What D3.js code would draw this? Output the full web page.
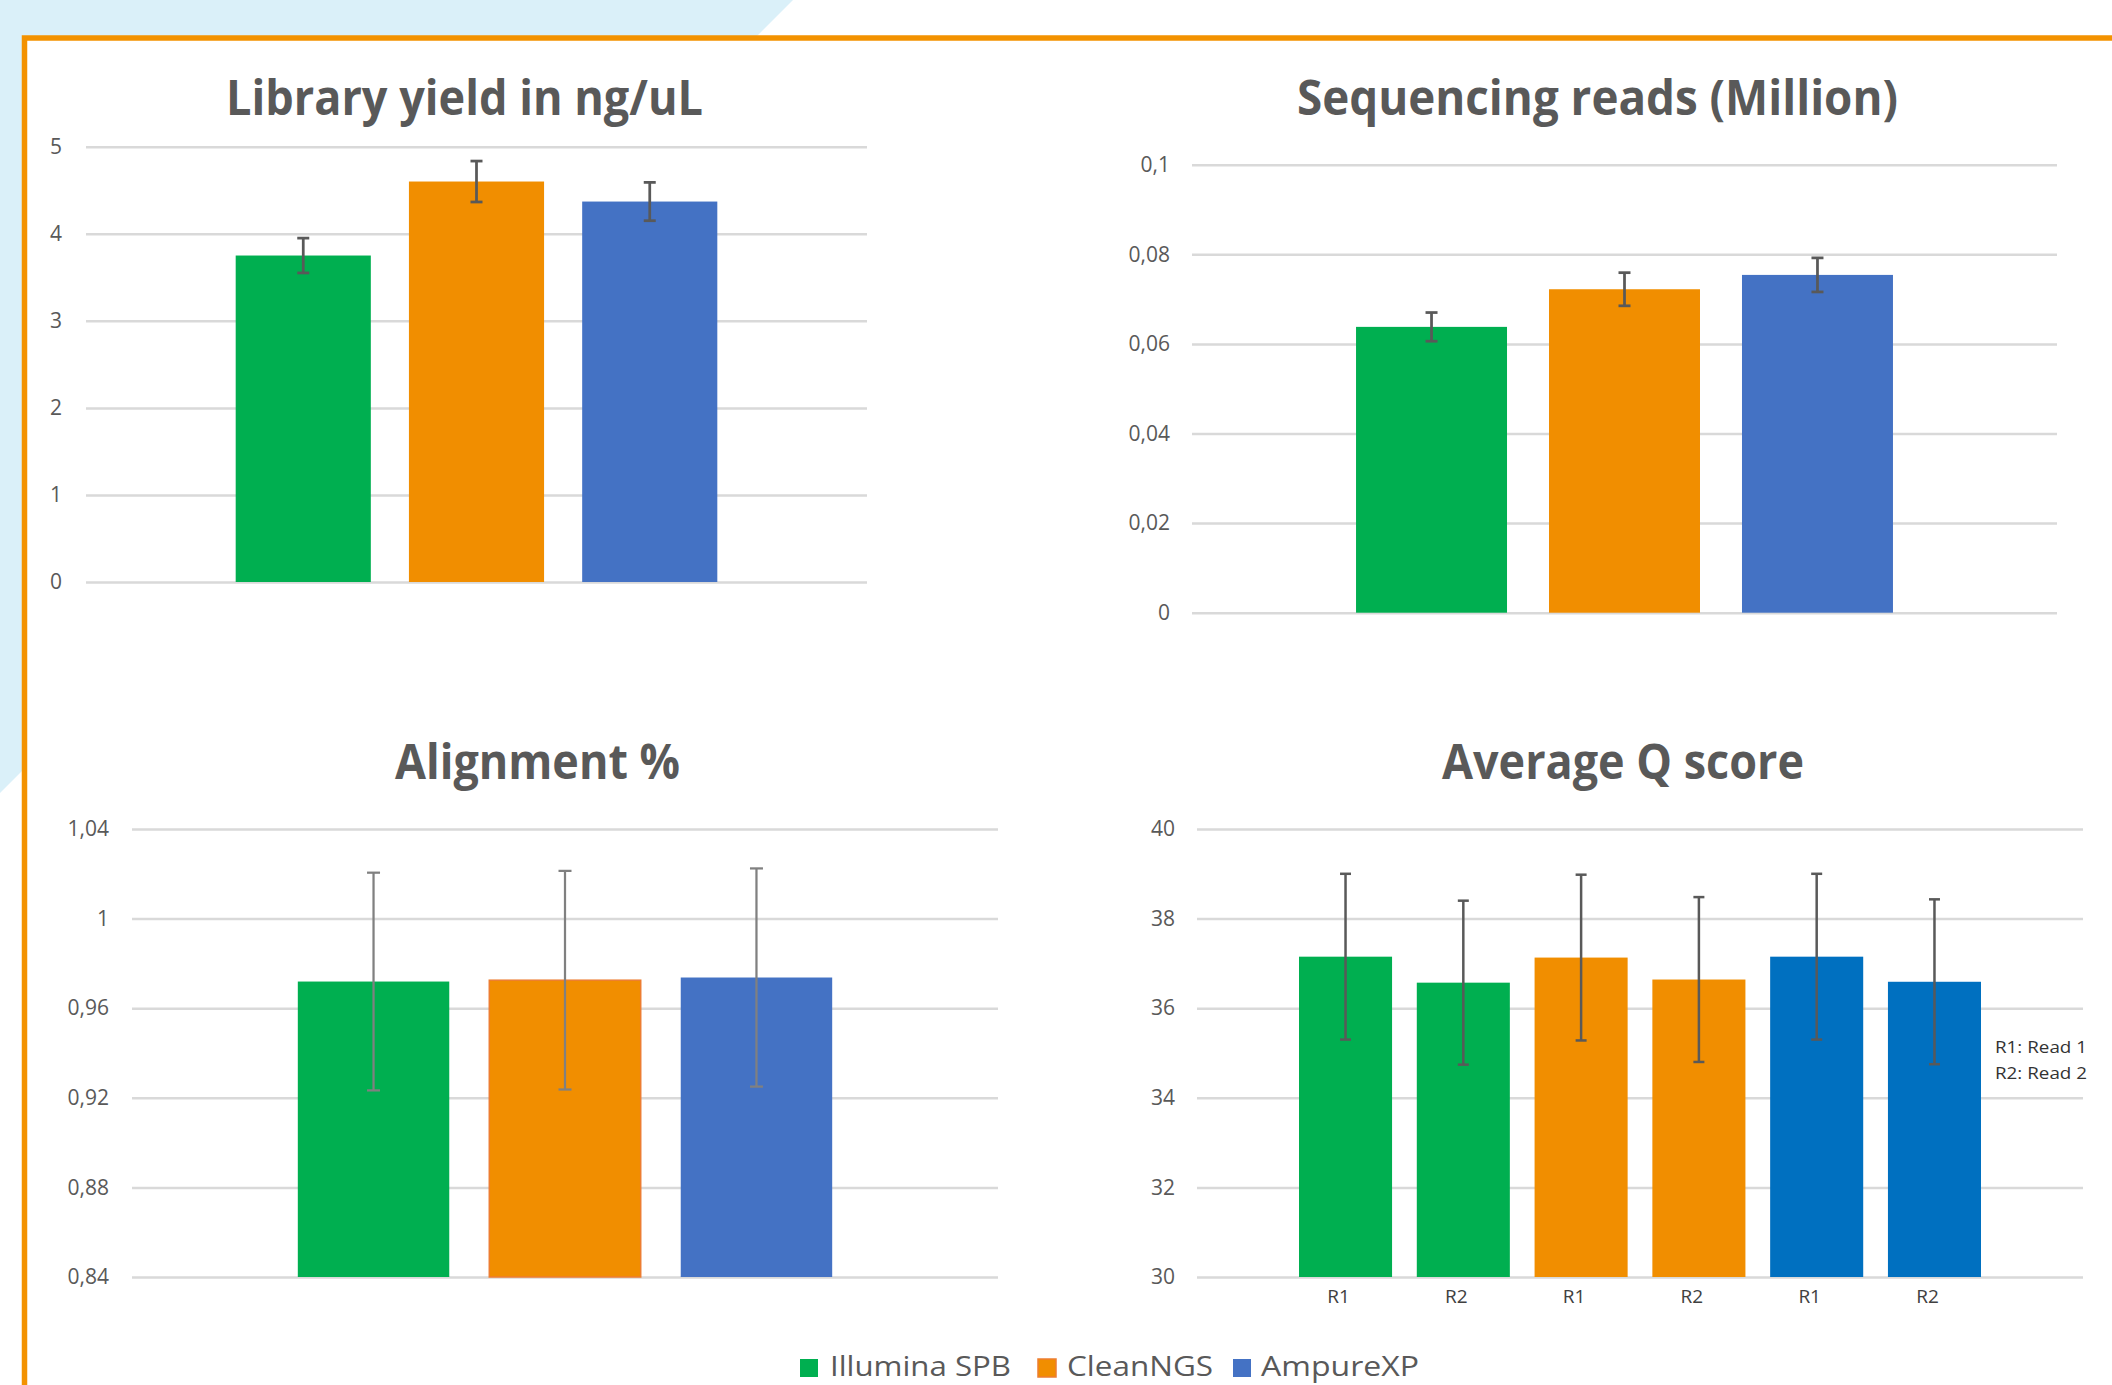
<!DOCTYPE html>
<html><head><meta charset="utf-8">
<script src="https://cdn.jsdelivr.net/npm/d3@7"></script>
<style>
html,body{margin:0;padding:0;background:#fff;overflow:hidden}
text{font-family:"Open Sans","Noto Sans",sans-serif}
</style></head>
<body>
<svg id="chart" width="2112" height="1385"></svg>
<script>
// ---------- data ----------
const seriesNames = ["Illumina SPB", "CleanNGS", "AmpureXP"];

const yieldValues = [3.75, 4.60, 4.37];
const yieldErrors = [0.20, 0.235, 0.22];
const yieldTicks = [0, 1, 2, 3, 4, 5];
const yieldTickLabels = ["0", "1", "2", "3", "4", "5"];

const readsValues = [0.0638, 0.0722, 0.0754];
const readsErrors = [0.0032, 0.0037, 0.0038];
const readsTicks = [0, 0.02, 0.04, 0.06, 0.08, 0.1];
const readsTickLabels = ["0", "0,02", "0,04", "0,06", "0,08", "0,1"];

const alignValues = [0.9719, 0.9725, 0.9737];
const alignErrors = [0.0486, 0.0488, 0.0487];
const alignTicks = [0.84, 0.88, 0.92, 0.96, 1.0, 1.04];
const alignTickLabels = ["0,84", "0,88", "0,92", "0,96", "1", "1,04"];

const qCategories = ["R1", "R2", "R1", "R2", "R1", "R2"];
const qSeries = [0, 0, 1, 1, 2, 2];
const qValues = [37.15, 36.57, 37.13, 36.64, 37.15, 36.59];
const qErrors = [1.85, 1.83, 1.85, 1.84, 1.85, 1.84];
const qTicks = [30, 32, 34, 36, 38, 40];
const qTickLabels = ["30", "32", "34", "36", "38", "40"];
const qNote = ["R1: Read 1", "R2: Read 2"];

const titles = ["Library yield in ng/uL", "Sequencing reads (Million)", "Alignment %", "Average Q score"];

// ---------- styles ----------
const colors = ["#00AF50", "#F18E00", "#4472C4"];
const qColors = ["#00AF50", "#F18E00", "#0070C0"];
const gridColor = "#D9D9D9";
const textGrey = "#595959";

const svg = d3.select("#chart");

// background decoration
svg.append("rect").attr("width", 2112).attr("height", 1385).attr("fill", "#fff");
svg.append("polygon").attr("points", "0,0 793,0 0,793").attr("fill", "#DAF0F9");
svg.append("rect").attr("x", 24.5).attr("y", 38).attr("width", 2200).attr("height", 1500)
  .attr("fill", "#fff").attr("stroke", "#F39200").attr("stroke-width", 5.5);

function fitText(sel, width) {
  sel.attr("textLength", width).attr("lengthAdjust", "spacingAndGlyphs");
}

function panel(cfg) {
  const n = cfg.values.length;
  const g = svg.append("g");
  const y = d3.scaleLinear().domain([cfg.ticks[0], cfg.ticks[cfg.ticks.length - 1]])
    .range([cfg.yBottom, cfg.yTop]);
  const x = d3.scaleBand().domain(d3.range(n)).range([cfg.x0, cfg.x1])
    .paddingInner(cfg.pIn).paddingOuter(cfg.pOut);

  // grid + y labels
  const ax = g.append("g").attr("transform", `translate(${cfg.x0},0)`)
    .call(d3.axisLeft(y).tickValues(cfg.ticks)
      .tickFormat((d, i) => cfg.tickLabels[i])
      .tickSize(-(cfg.x1 - cfg.x0))
      .tickPadding(cfg.x0 - cfg.labelRight));
  ax.select(".domain").remove();
  ax.selectAll(".tick line").attr("stroke", gridColor).attr("stroke-width", 2.5);
  ax.selectAll(".tick text").attr("fill", textGrey).attr("font-size", 21)
    .attr("font-family", "'Open Sans', sans-serif");

  // bars
  const base = y.domain()[0];
  g.selectAll("rect.bar").data(cfg.values).join("rect").attr("class", "bar")
    .attr("x", (d, i) => x(i)).attr("width", x.bandwidth())
    .attr("y", d => y(d)).attr("height", d => y(base) - y(d))
    .attr("fill", (d, i) => cfg.barColor(i))
    .attr("stroke", (d, i) => cfg.barStroke ? cfg.barStroke(i) : "none")
    .attr("stroke-width", 1.5);

  // error bars
  const eg = g.append("g").attr("stroke", cfg.errColor).attr("stroke-width", cfg.errWidth).attr("fill", "none");
  cfg.values.forEach((v, i) => {
    const cx = x(i) + x.bandwidth() / 2;
    const e = cfg.errors[i];
    eg.append("line").attr("x1", cx).attr("x2", cx).attr("y1", y(v + e)).attr("y2", y(v - e));
    eg.append("line").attr("x1", cx - cfg.cap).attr("x2", cx + cfg.cap).attr("y1", y(v + e)).attr("y2", y(v + e));
    eg.append("line").attr("x1", cx - cfg.cap).attr("x2", cx + cfg.cap).attr("y1", y(v - e)).attr("y2", y(v - e));
  });

  // x labels
  if (cfg.xLabels) {
    const xa = g.append("g").attr("transform", `translate(-7,${cfg.yBottom})`)
      .call(d3.axisBottom(x).tickFormat(i => cfg.xLabels[i]).tickSize(0).tickPadding(13));
    xa.select(".domain").remove();
    xa.selectAll(".tick text").attr("fill", "#404040").attr("font-size", 19)
      .attr("font-family", "'Open Sans', sans-serif");
  }

  // title
  const t = g.append("text").attr("x", cfg.titleCx).attr("y", cfg.titleY)
    .attr("text-anchor", "middle").attr("font-size", 48).attr("font-weight", 700)
    .attr("fill", textGrey).text(cfg.title);
  fitText(t, cfg.titleW);
  return {x, y};
}

panel({
  title: titles[0], titleCx: 464.5, titleY: 115, titleW: 477,
  x0: 86, x1: 867, yBottom: 582, yTop: 146.7, pIn: 0.22, pOut: 0.864,
  ticks: yieldTicks, tickLabels: yieldTickLabels, labelRight: 62,
  values: yieldValues, errors: yieldErrors, barColor: i => colors[i],
  errColor: "#595959", errWidth: 2.75, cap: 6
});

panel({
  title: titles[1], titleCx: 1597.5, titleY: 115, titleW: 601,
  x0: 1192, x1: 2057, yBottom: 612.7, yTop: 164.7, pIn: 0.2176, pOut: 0.85,
  ticks: readsTicks, tickLabels: readsTickLabels, labelRight: 1170,
  values: readsValues, errors: readsErrors, barColor: i => colors[i],
  errColor: "#595959", errWidth: 2.75, cap: 6
});

panel({
  title: titles[2], titleCx: 537.5, titleY: 779, titleW: 285,
  x0: 132, x1: 998, yBottom: 1277, yTop: 829, pIn: 0.209, pOut: 0.866,
  ticks: alignTicks, tickLabels: alignTickLabels, labelRight: 109,
  values: alignValues, errors: alignErrors, barColor: i => colors[i],
  barStroke: i => i === 1 ? "#ED7D31" : "none",
  errColor: "#808080", errWidth: 2.25, cap: 6.5
});

panel({
  title: titles[3], titleCx: 1623, titleY: 779, titleW: 362,
  x0: 1197, x1: 2083, yBottom: 1277, yTop: 829, pIn: 0.21, pOut: 0.866,
  ticks: qTicks, tickLabels: qTickLabels, labelRight: 1175,
  values: qValues, errors: qErrors, barColor: i => qColors[qSeries[i]],
  errColor: "#595959", errWidth: 2.5, cap: 5.5, xLabels: qCategories
});

// note
const note = svg.append("g");
qNote.forEach((s, i) => {
  const t = note.append("text").attr("x", 1995).attr("y", 1053 + i * 26)
    .attr("font-size", 17).attr("fill", "#333").text(s);
  fitText(t, 92);
});

// legend
const legendX = [800, 1038, 1233];
const legendTextX = [830, 1067, 1261];
const legendTextW = [181, 146, 158];
const lg = svg.append("g");
seriesNames.forEach((s, i) => {
  lg.append("rect").attr("x", legendX[i]).attr("y", 1359).attr("width", 18).attr("height", 18)
    .attr("fill", colors[i]).attr("stroke", i === 1 ? "#ED7D31" : "none").attr("stroke-width", 1.5);
  const t = lg.append("text").attr("x", legendTextX[i]).attr("y", 1376)
    .attr("font-size", 28).attr("fill", textGrey).text(s);
  fitText(t, legendTextW[i]);
});
</script>
</body></html>
